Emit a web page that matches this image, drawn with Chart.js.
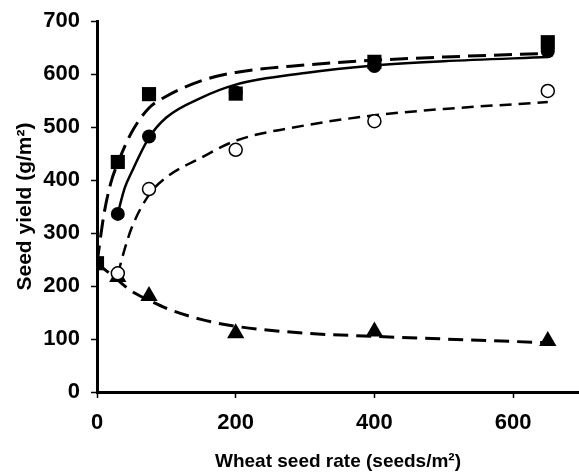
<!DOCTYPE html>
<html>
<head>
<meta charset="utf-8">
<script src="https://cdn.jsdelivr.net/npm/chart.js@4"></script>
<style>
html,body{margin:0;padding:0;background:#fff;}
#wrap{width:579px;height:475px;}
</style>
</head>
<body>
<div id="wrap"><canvas id="c" width="579" height="475"></canvas></div>
<script>
// Observed data
const seedRates = [0, 30, 75, 200, 400, 650];
const squareYield = [243, 434, 562, 563, 623, 660];
const filledYield = [null, 336, 482, 565, 615, 643];
const openYield = [null, 224, 383, 457, 511, 568];
const triangleYield = [null, 217, 181, 111, 114, 96];

// Fitted curves
const squareCurveX = [0, 10, 20, 30, 50, 75, 100, 150, 200, 300, 400, 500, 650];
const squareCurveY = [243, 335, 395, 432, 490, 536, 558, 587, 603, 617, 626, 632, 639];
const filledCurveX = [30, 40, 50, 75, 100, 150, 200, 300, 400, 500, 650];
const filledCurveY = [337, 385, 415, 480, 518, 555, 580, 602, 616, 624, 632];
const openCurveX = [30, 40, 50, 75, 100, 150, 200, 300, 400, 500, 650];
const openCurveY = [222, 270, 310, 372, 405, 442, 474, 503, 522, 534, 547];
const triCurveX = [0, 30, 50, 75, 100, 150, 200, 300, 400, 500, 650];
const triCurveY = [243, 211, 190, 173, 158, 137, 124, 111, 105, 100, 93];

const xTicks = [0, 200, 400, 600];
const yTicks = [0, 100, 200, 300, 400, 500, 600, 700];

const pts = (xs, ys) => xs.map((x, i) => ({x: x, y: ys[i]})).filter(p => p.y !== null);

const curve = (xs, ys, dash, w) => ({
  data: pts(xs, ys), showLine: true, borderColor: '#000', borderWidth: w,
  borderDash: dash, pointRadius: 0, pointHoverRadius: 0, fill: false,
  cubicInterpolationMode: 'monotone', order: 2
});
const marks = (ys, style, r, bg, bw) => ({
  data: pts(seedRates, ys), showLine: false, pointStyle: style, pointRadius: r,
  pointHoverRadius: r, backgroundColor: bg, borderColor: '#000', borderWidth: bw, order: 1
});

const fam = '"Liberation Sans", Arial, sans-serif';
const tickFont = {family: fam, size: 22, weight: 'bold'};

new Chart(document.getElementById('c'), {
  type: 'scatter',
  data: {
    datasets: [
      curve(squareCurveX, squareCurveY, [18, 8], 3),
      curve(filledCurveX, filledCurveY, [], 2.5),
      curve(openCurveX, openCurveY, [12, 7], 2.5),
      curve(triCurveX, triCurveY, [15, 8], 3),
      marks(squareYield, 'rect', 10, '#000', 0),
      marks(filledYield, 'circle', 7, '#000', 0),
      marks(openYield, 'circle', 6.5, '#fff', 1.5),
      marks(triangleYield, 'triangle', 10, '#000', 0)
    ]
  },
  options: {
    responsive: false,
    animation: false,
    devicePixelRatio: 1,
    layout: {autoPadding: false, padding: {top: 21, right: 0, left: 0, bottom: 0}},
    plugins: {legend: {display: false}, tooltip: {enabled: false}},
    scales: {
      x: {
        type: 'linear', min: 0, max: 695,
        afterBuildTicks: s => { s.ticks = xTicks.map(v => ({value: v})); },
        afterFit: s => { s.height = 83; s.paddingRight = 0; s.paddingLeft = 0; },
        grid: {drawOnChartArea: false, drawTicks: true, tickLength: 6, tickColor: '#000', tickWidth: 1.5},
        border: {color: '#000', width: 3},
        ticks: {color: '#000', font: tickFont, padding: 12, maxRotation: 0},
        title: {display: true, text: 'Wheat seed rate (seeds/m²)', color: '#000', font: {family: fam, size: 19, weight: 'bold'}, padding: {top: 0, bottom: 2}}
      },
      y: {
        type: 'linear', min: 0, max: 700,
        afterBuildTicks: s => { s.ticks = yTicks.map(v => ({value: v})); },
        afterFit: s => { s.width = 97; s.paddingTop = 0; s.paddingBottom = 0; },
        grid: {drawOnChartArea: false, drawTicks: true, tickLength: 6, tickColor: '#000', tickWidth: 1.5},
        border: {color: '#000', width: 3},
        ticks: {color: '#000', font: tickFont, padding: 11},
        title: {display: true, text: 'Seed yield (g/m²)', color: '#000', font: {family: fam, size: 21, weight: 'bold'}, padding: {top: 13, bottom: 0}}
      }
    }
  }
});
</script>
</body>
</html>
